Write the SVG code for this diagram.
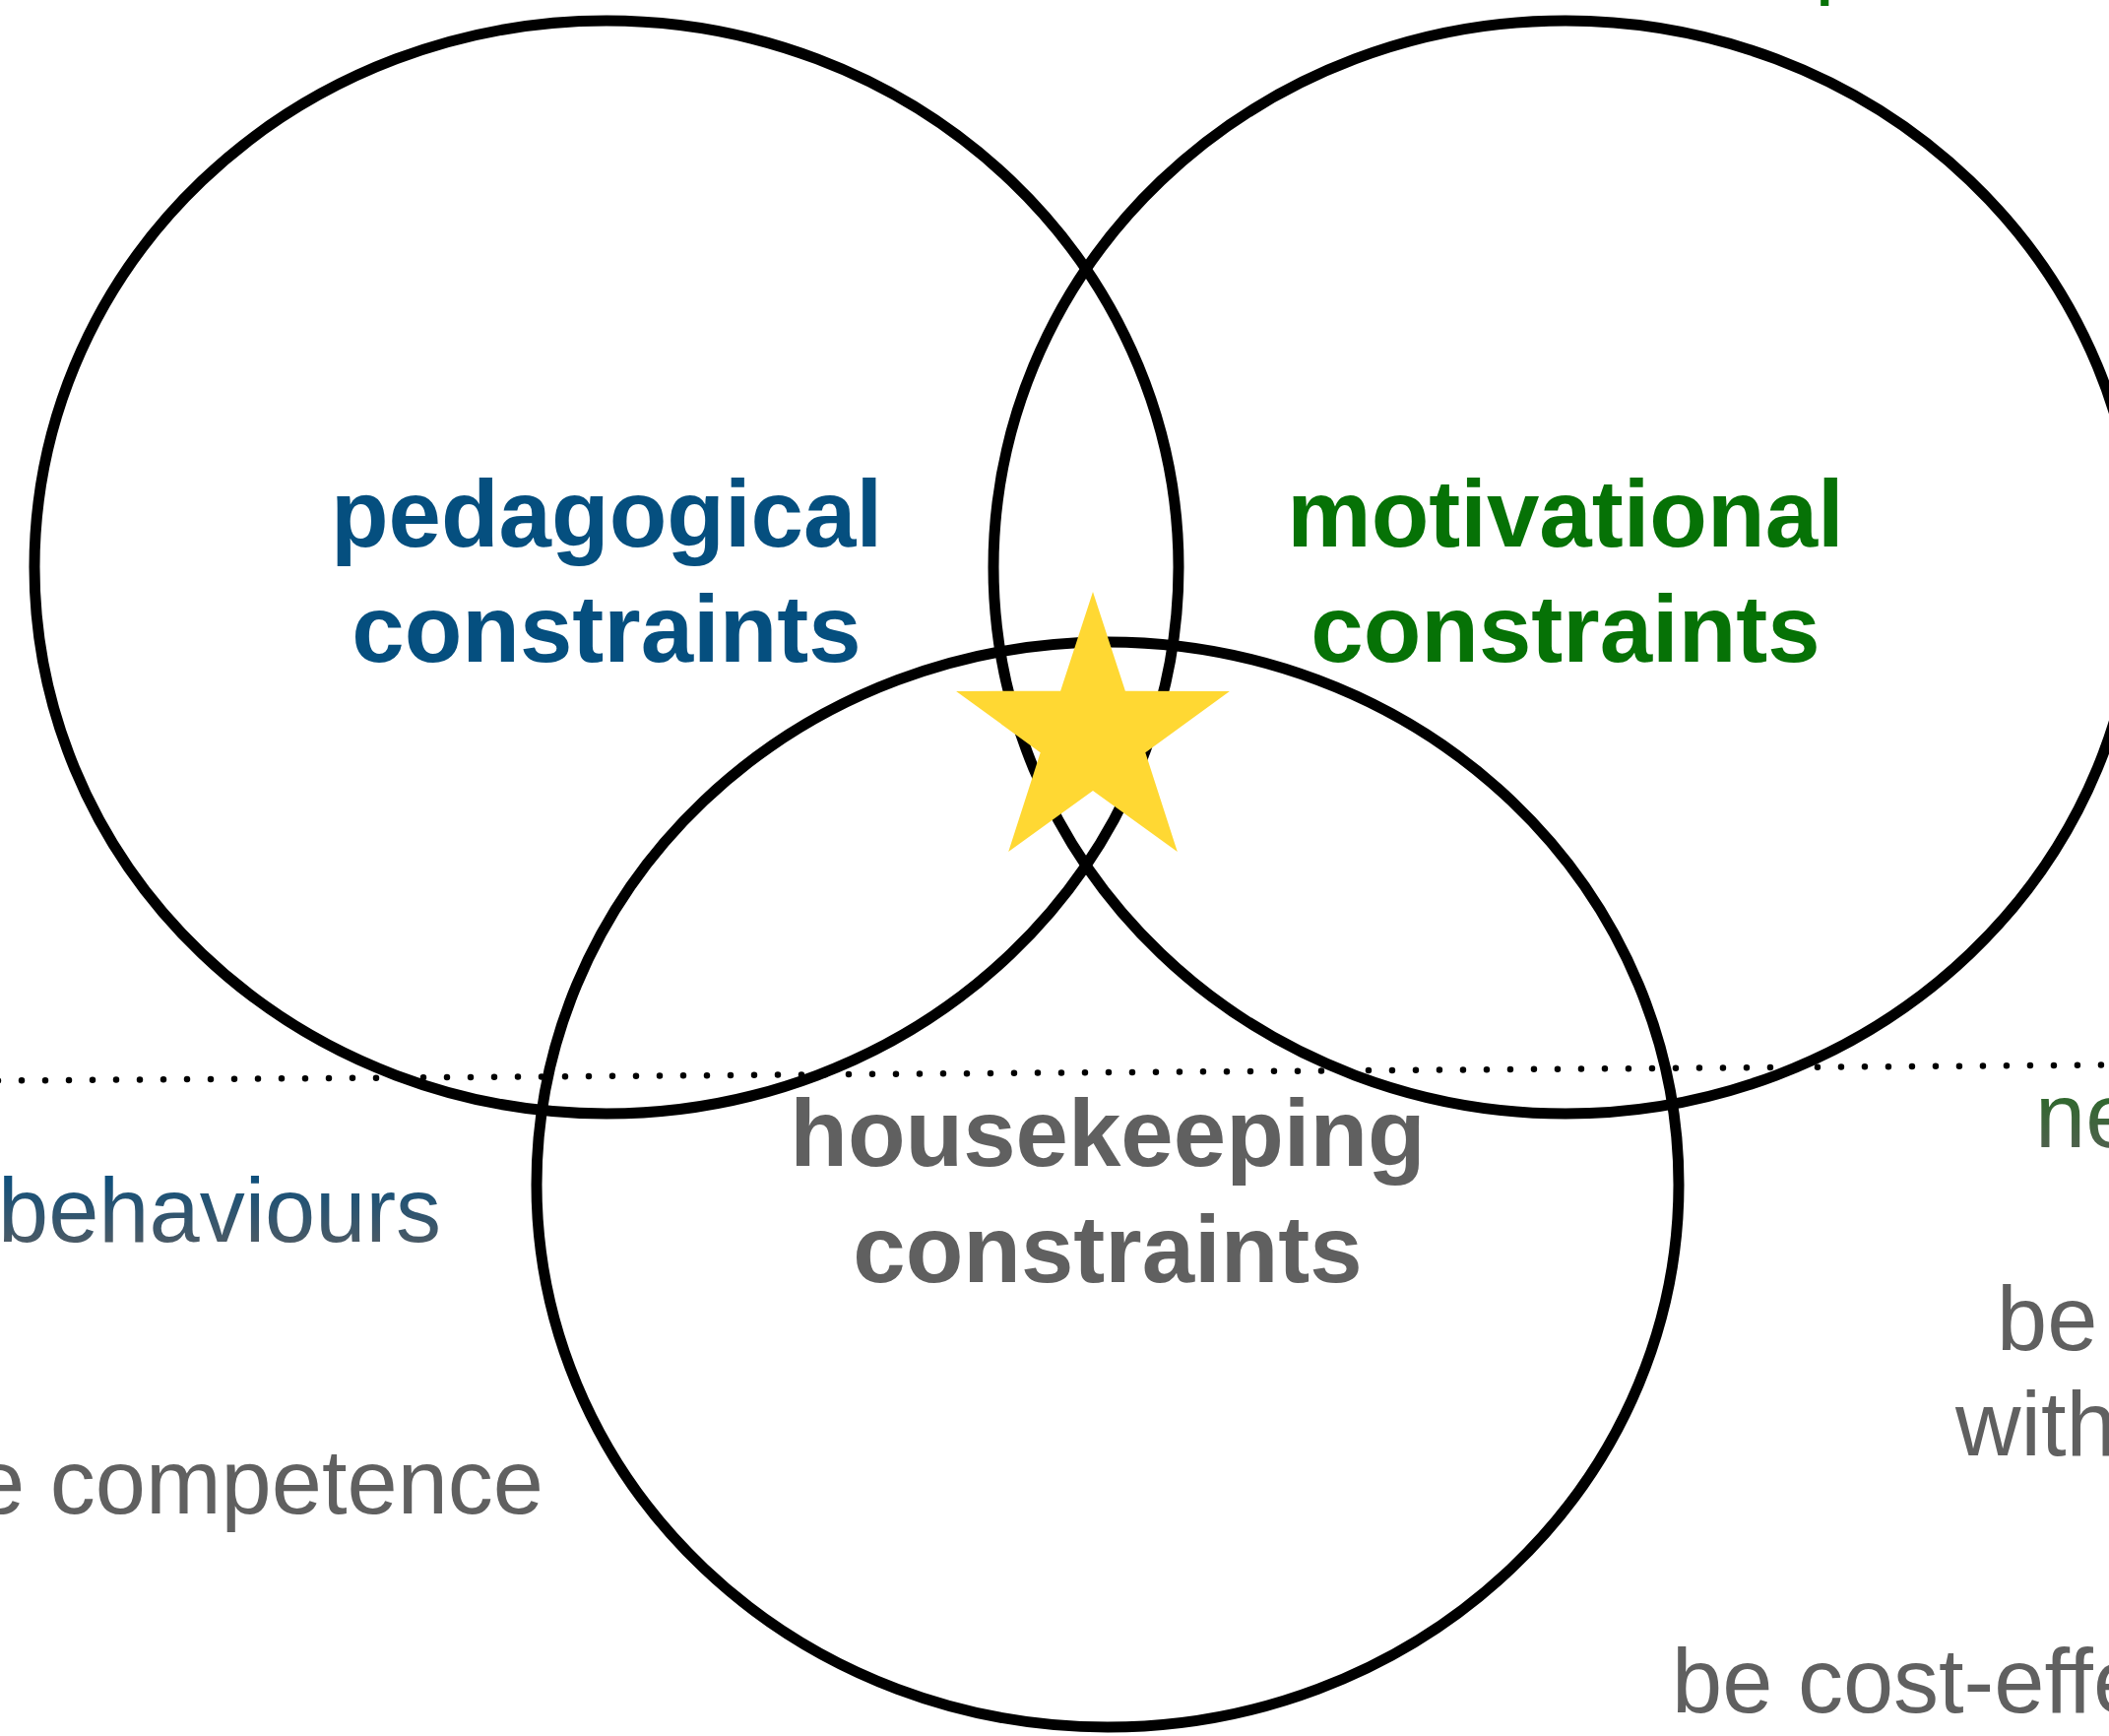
<svg xmlns="http://www.w3.org/2000/svg" width="2142" height="1763" viewBox="0 0 2142 1763">
  <style>
    .ring { fill: none; stroke: #000000; stroke-width: 11; }
    .title { font-family: "Liberation Sans", Arial, sans-serif; font-weight: bold; font-size: 96px; text-anchor: middle; }
    .side { font-family: "Liberation Sans", Arial, sans-serif; font-size: 92px; }
    .blue { fill: #054f7f; }
    .green { fill: #067206; }
    .gray { fill: #606060; }
    .divider { fill: none; stroke: #000000; stroke-width: 6.5; stroke-linecap: round; stroke-dasharray: 0 24; }
  </style>
  <defs>
    <linearGradient id="gBlue" gradientUnits="userSpaceOnUse" x1="0" y1="1190" x2="0" y2="1265">
      <stop offset="0" stop-color="#0a4f7e"/>
      <stop offset="1" stop-color="#4d5a64"/>
    </linearGradient>
    <linearGradient id="gGreen" gradientUnits="userSpaceOnUse" x1="0" y1="1080" x2="0" y2="1180">
      <stop offset="0" stop-color="#1c6c1a"/>
      <stop offset="1" stop-color="#575f55"/>
    </linearGradient>
  </defs>

  <g id="connectors">
    <line class="divider" x1="-2" y1="1097.5" x2="2142" y2="1081.5"/>
  </g>

  <g id="node-pedagogical">
    <ellipse class="ring" cx="616" cy="576" rx="581" ry="555"/>
    <text class="title blue" x="616" y="555">pedagogical</text>
    <text class="title blue" x="616" y="672">constraints</text>
  </g>

  <g id="node-motivational">
    <ellipse class="ring" cx="1590" cy="576" rx="581" ry="555"/>
    <text class="title green" x="1590" y="555">motivational</text>
    <text class="title green" x="1590" y="672">constraints</text>
  </g>

  <g id="node-housekeeping">
    <ellipse class="ring" cx="1125" cy="1203" rx="580" ry="551"/>
    <text class="title gray" x="1125" y="1184">housekeeping</text>
    <text class="title gray" x="1125" y="1302">constraints</text>
  </g>

  <g id="node-star">
    <polygon fill="#FFD833" points="1110,601 1142.9,701.7 1248.9,701.9 1163.3,764.3 1195.8,865.1 1110,803 1024.2,865.1 1056.7,764.3 971.1,701.9 1077.1,701.7"/>
  </g>

  <g id="side-labels">
    <text class="side green" x="1843" y="-12.6">p</text>
    <text class="side" x="-2" y="1261" fill="url(#gBlue)">behaviours</text>
    <text class="side gray" x="552" y="1537" text-anchor="end">e competence</text>
    <text class="side" x="2067" y="1165" fill="url(#gGreen)">ne</text>
    <text class="side gray" x="2028" y="1371">be</text>
    <text class="side gray" x="1986" y="1478">with</text>
    <text class="side gray" x="1698" y="1739">be cost-effe</text>
  </g>
</svg>
